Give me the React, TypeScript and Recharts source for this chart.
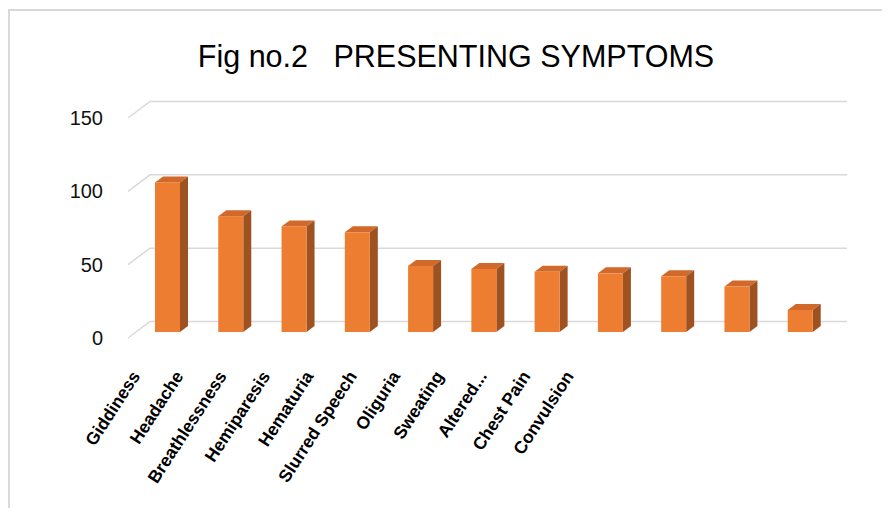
import React from 'react';
import { ComposedChart, Bar, Line, XAxis, YAxis, CartesianGrid } from 'recharts';

const categories = [
  'Giddiness',
  'Headache',
  'Breathlessness',
  'Hemiparesis',
  'Hematuria',
  'Slurred Speech',
  'Oliguria',
  'Sweating',
  'Altered...',
  'Chest Pain',
  'Convulsion',
];
const counts = [102, 79, 72, 68, 45, 43, 41, 40, 38, 31, 15];
const yTicks = [0, 50, 100, 150];
const title = 'Fig no.2   PRESENTING SYMPTOMS';

const data = categories.map((name, i) => ({ name, value: counts[i] }));

const FONT = '"Liberation Sans", Arial, sans-serif';
const FRONT = '#ED7D31';
const TOP = '#D0692A';
const SIDE = '#9E5222';
const GRID = '#d9d9d9';

// 3D depth offsets
const BAR_SHIFT_X = 8;
const BAR_SHIFT_Y = 6;
const BAR_DEPTH_X = 8;
const BAR_DEPTH_Y = 6;
const GRID_DX = 22;
const GRID_DY = 16.5;

function Bar3D(props: any) {
  const { x, y, width, height } = props;
  if (!height || height <= 0) return null;
  const fx = x + BAR_SHIFT_X;
  const fy = y - BAR_SHIFT_Y;
  const w = width;
  const h = height;
  const dx = BAR_DEPTH_X;
  const dy = BAR_DEPTH_Y;
  return (
    <g>
      <polygon
        points={`${fx},${fy} ${fx + dx},${fy - dy} ${fx + w + dx},${fy - dy} ${fx + w},${fy}`}
        fill={TOP}
      />
      <polygon
        points={`${fx + w},${fy} ${fx + w + dx},${fy - dy} ${fx + w + dx},${fy + h - dy} ${fx + w},${fy + h}`}
        fill={SIDE}
      />
      <rect x={fx} y={fy} width={w} height={h} fill={FRONT} />
    </g>
  );
}

function gridLine(props: any) {
  const { x1, y1, x2 } = props;
  const pts = `${x1},${y1} ${x1 + GRID_DX},${y1 - GRID_DY} ${x2 + GRID_DX + 1},${y1 - GRID_DY}`;
  return <polyline key={`grid-${y1}`} points={pts} fill="none" stroke={GRID} strokeWidth={1.5} />;
}

function LabelTick(props: any) {
  const { x, y, payload } = props;
  return (
    <g transform={`translate(${x - 9},${y - 2})`}>
      <text
        textAnchor="end"
        transform="rotate(-57)"
        fontFamily={FONT}
        fontWeight="bold"
        fontSize={17.5}
        fill="#000"
      >
        {payload.value}
      </text>
    </g>
  );
}

export default function App() {
  return (
    <div style={{ position: 'relative', width: 874, height: 500 }}>
      <div
        style={{
          position: 'absolute',
          left: 0,
          top: 1,
          width: 2,
          height: 499,
          background: GRID,
          zIndex: 2,
        }}
      />
      <div
        style={{
          position: 'absolute',
          left: 0,
          top: 1,
          width: 874,
          height: 1.5,
          background: GRID,
          zIndex: 2,
        }}
      />
      <div style={{ position: 'absolute', left: 0, top: 0 }}>
        <ComposedChart
          width={874}
          height={500}
          data={data}
          margin={{ top: 110, right: 58, left: 70, bottom: 20 }}
        >
          <text
            x={448}
            y={59}
            textAnchor="middle"
            fontFamily={FONT}
            fontSize={30.5}
            fill="#000"
            style={{ whiteSpace: 'pre' }}
          >
            {title}
          </text>
          <CartesianGrid vertical={false} horizontal={gridLine} />
          <XAxis dataKey="name" hide height={0} />
          <XAxis
            xAxisId="labels"
            dataKey="name"
            height={150}
            padding={{ left: 0, right: 219 }}
            axisLine={false}
            tickLine={false}
            tickSize={0}
            tickMargin={40}
            interval={0}
            tick={<LabelTick />}
          />
          <YAxis
            width={50}
            domain={[0, 150]}
            ticks={yTicks}
            axisLine={false}
            tickLine={false}
            tickSize={0}
            tickMargin={25}
            tick={{ fontSize: 20, fill: '#111', fontFamily: FONT }}
          />
          <Bar dataKey="value" barSize={25} shape={Bar3D} isAnimationActive={false} />
          <Line
            xAxisId="labels"
            dataKey="value"
            stroke="none"
            dot={false}
            activeDot={false}
            legendType="none"
            isAnimationActive={false}
          />
        </ComposedChart>
      </div>
    </div>
  );
}
